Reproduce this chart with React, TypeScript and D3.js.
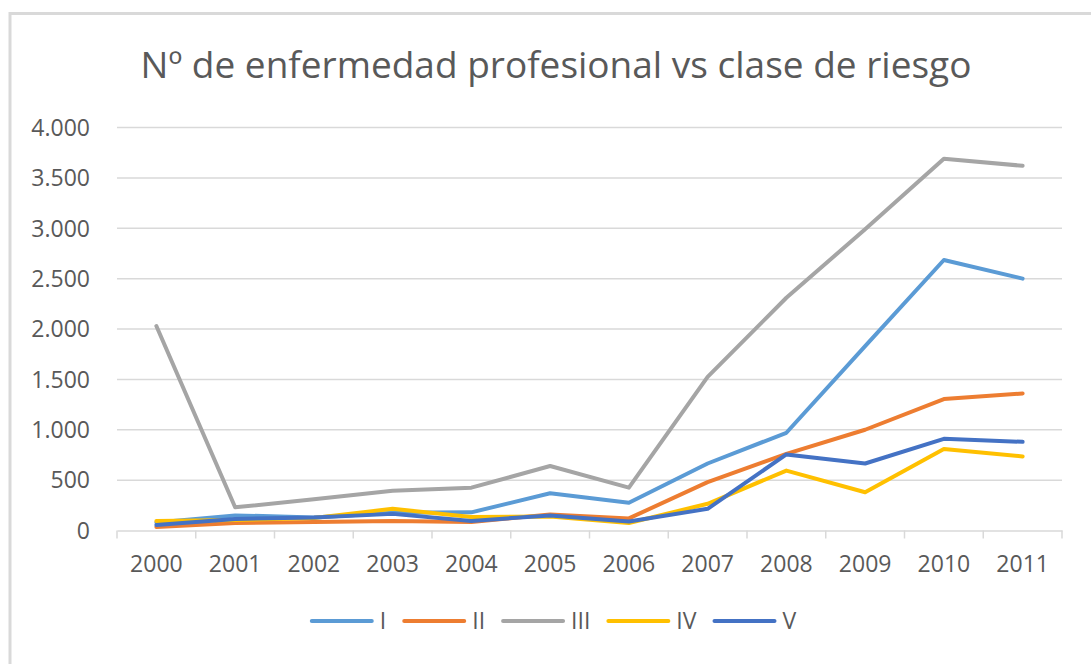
import React, { useRef, useEffect } from "react";
import * as d3 from "d3";

// categories (years) and values per risk class
const years = ["2000", "2001", "2002", "2003", "2004", "2005", "2006", "2007", "2008", "2009", "2010", "2011"];
const classI = [80, 150, 130, 175, 180, 370, 275, 665, 970, 1830, 2685, 2500];
const classII = [35, 75, 85, 95, 85, 160, 120, 480, 760, 1000, 1305, 1360];
const classIII = [2030, 230, 310, 395, 425, 640, 425, 1525, 2310, 2990, 3690, 3620];
const classIV = [95, 105, 125, 215, 135, 140, 75, 265, 595, 380, 810, 735];
const classV = [55, 115, 130, 165, 95, 150, 90, 215, 755, 665, 910, 880];
const yTicks = [0, 500, 1000, 1500, 2000, 2500, 3000, 3500, 4000];

const seriesNames = ["I", "II", "III", "IV", "V"];
const seriesValues = [classI, classII, classIII, classIV, classV];
const seriesColors = ["#5B9BD5", "#ED7D31", "#A5A5A5", "#FFC000", "#4472C4"];

const W = 1091;
const H = 664;
const FONT = "'Open Sans', 'Liberation Sans', sans-serif";
const TEXT = "#595959";

const App = () => {
  const svgRef = useRef<SVGSVGElement | null>(null);

  useEffect(() => {
    const svg = d3.select(svgRef.current);
    svg.selectAll("*").remove();

    // chart frame
    svg.append("rect")
      .attr("x", 10).attr("y", 13.5)
      .attr("width", W + 20).attr("height", H + 20)
      .attr("fill", "#fff")
      .attr("stroke", "#D9D9D9")
      .attr("stroke-width", 3);

    svg.append("text")
      .attr("x", 556).attr("y", 78)
      .attr("text-anchor", "middle")
      .attr("fill", TEXT)
      .style("font-family", FONT)
      .style("font-size", "37px")
      .text("Nº de enfermedad profesional vs clase de riesgo");

    const x = d3.scaleBand().domain(years).range([117, 1062]);
    const y = d3.scaleLinear().domain([0, 4000]).range([530.5, 127.5]);

    // gridlines
    svg.append("g")
      .selectAll("line")
      .data(yTicks.slice(1))
      .join("line")
      .attr("x1", 117).attr("x2", 1062)
      .attr("y1", d => y(d)).attr("y2", d => y(d))
      .attr("stroke", "#D9D9D9")
      .attr("stroke-width", 1.5);

    // category axis
    const xAxis = svg.append("g")
      .attr("transform", `translate(0,${y(0)})`)
      .call(d3.axisBottom(x).tickSize(0).tickPadding(25));
    xAxis.select(".domain").attr("stroke", "#D9D9D9").attr("stroke-width", 1.5);
    xAxis.selectAll("text")
      .attr("fill", TEXT)
      .style("font-family", FONT)
      .style("font-size", "23px");

    const boundaries = years.map(yr => x(yr) as number).concat([1062]);
    svg.append("g")
      .selectAll("line")
      .data(boundaries)
      .join("line")
      .attr("x1", d => d).attr("x2", d => d)
      .attr("y1", y(0)).attr("y2", y(0) + 8)
      .attr("stroke", "#D9D9D9")
      .attr("stroke-width", 1.5);

    // value axis labels
    svg.append("g")
      .selectAll("text")
      .data(yTicks)
      .join("text")
      .attr("x", 90)
      .attr("y", d => y(d))
      .attr("dy", "0.36em")
      .attr("text-anchor", "end")
      .attr("fill", TEXT)
      .style("font-family", FONT)
      .style("font-size", "23px")
      .text(d => d3.format(",")(d).replace(/,/g, "."));

    // series lines
    const line = d3.line<number>()
      .x((_, i) => (x(years[i]) as number) + x.bandwidth() / 2)
      .y(d => y(d));

    svg.append("g")
      .selectAll("path")
      .data(seriesValues)
      .join("path")
      .attr("d", d => line(d))
      .attr("fill", "none")
      .attr("stroke", (_, i) => seriesColors[i])
      .attr("stroke-width", 4)
      .attr("stroke-linejoin", "round")
      .attr("stroke-linecap", "round");

    // legend, centred under the chart
    const legend = svg.append("g");
    const gap = 18;
    let cursor = 0;
    seriesNames.forEach((name, i) => {
      const item = legend.append("g").attr("transform", `translate(${cursor},0)`);
      item.append("line")
        .attr("x1", 0).attr("x2", 60)
        .attr("stroke", seriesColors[i])
        .attr("stroke-width", 4)
        .attr("stroke-linecap", "round");
      const t = item.append("text")
        .attr("x", 68).attr("dy", "0.36em")
        .attr("fill", TEXT)
        .style("font-family", FONT)
        .style("font-size", "23px")
        .text(name);
      const tw = (t.node() as SVGTextElement).getComputedTextLength();
      cursor += 68 + tw + gap;
    });
    const total = cursor - gap;
    legend.attr("transform", `translate(${554 - total / 2},621)`);
  }, []);

  return (
    <svg
      ref={svgRef}
      width={W}
      height={H}
      style={{ position: "absolute", left: 0, top: 0, background: "#fff" }}
    />
  );
};

export default App;
